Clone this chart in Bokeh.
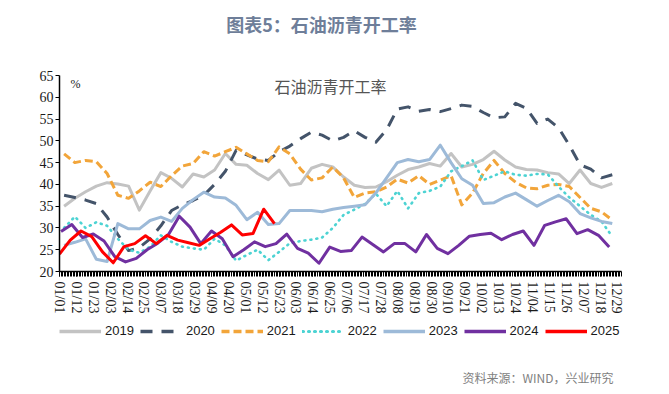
from bokeh.plotting import figure
from bokeh.layouts import column
from bokeh.models import Legend, LegendItem, FixedTicker, Label, Range1d
from bokeh.embed import file_html
from bokeh.resources import INLINE

# ---------------- data ----------------
tick_labels = ["01/01", "01/12", "01/23", "02/03", "02/14", "02/25", "03/07", "03/18",
               "03/29", "04/09", "04/20", "05/01", "05/12", "05/23", "06/03", "06/14",
               "06/25", "07/06", "07/17", "07/28", "08/08", "08/19", "08/30", "09/10",
               "09/21", "10/02", "10/13", "10/24", "11/04", "11/15", "11/26", "12/07",
               "12/18", "12/29"]
tick_days = [11 * i for i in range(len(tick_labels))]   # day-of-year of each tick label
y_ticks = [20, 25, 30, 35, 40, 45, 50, 55, 60, 65]

years = ["2019", "2020", "2021", "2022", "2023", "2024", "2025"]

y2019 = [35.0, 36.8, 38.3, 39.6, 40.4, 40.1, 39.6, 34.1, 38.5, 42.7, 41.4, 39.4, 42.4,
         41.7, 43.3, 47.1, 44.6, 44.4, 42.5, 41.1, 43.3, 39.8, 40.2, 43.7, 44.6, 44.0,
         41.7, 39.8, 39.3, 39.4, 40.6, 42.1, 43.4, 44.0, 44.8, 44.2, 47.1, 44.0, 44.6,
         45.7, 47.6, 45.6, 44.0, 43.4, 43.3, 42.7, 42.4, 40.2, 43.3, 40.2, 39.3, 40.2]
y2020 = [37.5, 37.0, 36.4, 35.6, 32.5, 28.5, 24.8, 25.5, 27.5, 30.5, 34.0, 35.3, 36.3,
         37.5, 40.0, 43.0, 47.8, 46.8, 45.8, 45.5, 47.5, 48.8, 50.5, 52.0, 51.3, 50.0,
         50.8, 52.3, 50.8, 49.7, 52.5, 57.3, 57.8, 56.8, 57.2, 56.7, 57.4, 58.2, 57.9,
         56.5, 55.3, 55.5, 58.6, 57.5, 54.0, 55.0, 53.0, 49.0, 44.5, 43.5, 41.5, 42.2]
y2021 = [47.0, 45.0, 45.5, 45.2, 42.5, 37.5, 36.8, 38.5, 40.5, 39.5, 42.0, 44.2, 44.8,
         47.5, 46.5, 47.5, 48.5, 47.0, 45.5, 45.2, 48.6, 47.0, 43.5, 41.0, 41.5, 44.0,
         41.5, 37.0, 38.0, 38.3, 39.4, 41.2, 40.3, 42.0, 40.0, 41.0, 42.0, 35.3, 38.0,
         42.5, 45.5, 42.5, 40.5, 39.2, 39.0, 39.8, 40.0, 39.5, 37.0, 34.5, 33.7, 31.8]
y2022 = [30.0, 32.6, 30.0, 31.3, 30.5, 27.5, 25.0, 24.3, 25.7, 28.3, 26.8, 25.7, 25.3,
         25.0, 27.5, 26.0, 22.5, 23.8, 25.0, 22.6, 24.5, 26.5, 27.0, 27.3, 27.8, 30.0,
         33.0, 34.2, 35.5, 37.9, 35.0, 38.5, 34.5, 38.0, 38.5, 39.5, 43.0, 44.2, 45.5,
         41.0, 42.0, 43.0, 42.2, 42.0, 42.4, 42.3, 39.5, 37.0, 35.0, 33.0, 31.5, 28.0]
y2023 = [26.0, 26.7, 27.5, 22.8, 22.3, 31.0, 29.8, 29.8, 31.7, 32.5, 31.5, 34.5, 36.5,
         38.2, 37.1, 36.9, 35.2, 31.9, 33.6, 30.8, 31.0, 34.0, 34.0, 34.0, 33.7, 34.3,
         34.7, 35.0, 35.3, 38.0, 41.5, 45.0, 45.7, 45.2, 45.7, 49.0, 45.0, 41.3, 39.8,
         35.6, 35.8, 37.1, 38.0, 36.5, 35.0, 36.3, 37.5, 36.0, 33.3, 32.3, 31.5, 31.0]
y2024 = [29.2, 30.8, 27.8, 28.6, 27.0, 23.4, 22.2, 23.0, 25.0, 26.5, 28.5, 32.7, 30.2,
         26.4, 29.3, 27.5, 23.4, 25.0, 26.8, 25.7, 26.4, 28.6, 25.3, 24.2, 21.9, 25.6,
         24.6, 24.8, 27.9, 26.2, 24.5, 26.4, 26.4, 24.5, 28.5, 25.3, 24.1, 26.0, 28.1,
         28.5, 28.8, 27.3, 28.5, 29.3, 26.0, 30.6, 31.4, 32.1, 28.7, 29.6, 28.3, 25.6]
y2025 = [24.0, 27.2, 29.3, 28.0, 24.5, 22.0, 25.7, 26.4, 28.2, 26.4, 28.3, 27.2, 26.6,
         26.0, 27.5, 29.0, 30.7, 28.4, 28.7, 34.3, 31.0]

series_values = [y2019, y2020, y2021, y2022, y2023, y2024, y2025]
start_day = [3, 3, 3, 3, 3, 1, 0]          # day-of-year of each year's first weekly reading

colors = ["#C3C3C3", "#44546A", "#F2A53A", "#4DD3D3", "#9DBAD8", "#7030A0", "#FF0000"]
dashes = ["solid", "12 9", "8 4", "1 5", "solid", "solid", "solid"]
widths = [3, 3, 3, 2.6, 3, 3, 3]
caps = ["butt", "butt", "butt", "round", "butt", "butt", "butt"]

W = 669
NAN = float("nan")
# the column layout aligns all frames to the main chart's frame (left edge at 59 px)


def blank(height):
    f = figure(width=W, height=height, x_range=Range1d(0, 1), y_range=Range1d(0, 1),
               output_backend="svg", toolbar_location=None,
               x_axis_location=None, y_axis_location=None,
               min_border_left=59, min_border_right=48, min_border_top=0, min_border_bottom=0)
    f.grid.visible = False
    f.outline_line_color = None
    f.background_fill_color = "white"
    f.border_fill_color = "white"
    return f


# ---------------- title strip ----------------
top = blank(60)
top.add_layout(Label(x=262, y=37, x_units="screen", y_units="screen",
                     text="图表5：石油沥青开工率", text_align="center", text_baseline="middle",
                     text_font="Noto Sans CJK SC", text_font_style="bold",
                     text_font_size="18px", text_color="#6E7E99"))

# ---------------- main chart ----------------
p = figure(width=W, height=260, x_range=(0, 366), y_range=(20, 65),
           output_backend="svg", toolbar_location=None,
           min_border_left=59, min_border_right=48, min_border_top=15, min_border_bottom=49)
p.outline_line_color = None
p.grid.visible = False
p.background_fill_color = "white"
p.border_fill_color = "white"

for vals, d0, c, dsh, w, cap in zip(series_values, start_day, colors, dashes, widths, caps):
    xs = [d0 + 7 * i for i in range(len(vals))]
    p.line(xs, vals, line_color=c, line_width=w, line_dash=dsh,
           line_cap=cap, line_join="round")

p.yaxis.ticker = FixedTicker(ticks=y_ticks)
p.yaxis.major_tick_in = 0
p.yaxis.major_tick_out = 4
p.yaxis.minor_tick_line_color = None
p.yaxis.axis_line_color = "black"
p.yaxis.axis_line_width = 1.5
p.yaxis.major_tick_line_color = "black"
p.yaxis.major_label_text_font = "Liberation Serif"
p.yaxis.major_label_text_font_size = "14px"
p.yaxis.major_label_text_color = "#1a1a1a"
p.yaxis.major_label_standoff = 2

p.xaxis.ticker = FixedTicker(ticks=tick_days, minor_ticks=list(range(0, 367)))
p.xaxis.major_label_overrides = {d: lab for d, lab in zip(tick_days, tick_labels)}
p.xaxis.major_label_orientation = "vertical"
p.xaxis.major_label_text_font = "Liberation Serif"
p.xaxis.major_label_text_font_size = "14px"
p.xaxis.major_label_text_color = "#1a1a1a"
p.xaxis.major_label_standoff = 5
p.xaxis.axis_line_color = "black"
p.xaxis.axis_line_width = 1.5
p.xaxis.major_tick_in = 0
p.xaxis.major_tick_out = 5
p.xaxis.minor_tick_in = 0
p.xaxis.minor_tick_out = 5
p.xaxis.major_tick_line_color = "black"
p.xaxis.minor_tick_line_color = "black"

p.add_layout(Label(x=271, y=186, x_units="screen", y_units="screen",
                   text="石油沥青开工率", text_align="center", text_baseline="middle",
                   text_font="Noto Sans CJK SC", text_font_size="16px",
                   text_color="#555555"))
p.add_layout(Label(x=16, y=188, x_units="screen", y_units="screen",
                   text="%", text_align="center", text_baseline="middle",
                   text_font="Liberation Serif", text_font_size="12px",
                   text_color="#1a1a1a"))

# ---------------- legend + source strip ----------------
bot = blank(74)
legend_renderers = []
for c, dsh, w, cap in zip(colors, dashes, widths, caps):
    # legend swatches only: a line with no drawable point
    legend_renderers.append(bot.line([NAN], [NAN], line_color=c, line_width=w + 0.5,
                                     line_dash=dsh, line_cap=cap))
items = [LegendItem(label=y, renderers=[r]) for y, r in zip(years, legend_renderers)]
legend = Legend(items=items, orientation="horizontal", location=(0, 56),
                glyph_width=42, glyph_height=14, label_standoff=4, spacing=6,
                padding=0, margin=0, border_line_color=None, background_fill_alpha=0,
                label_text_font="Liberation Sans", label_text_font_size="13px",
                label_text_color="#1a1a1a", label_height=14)
bot.add_layout(legend, "center")
bot.add_layout(Label(x=554, y=17, x_units="screen", y_units="screen",
                     text="资料来源：WIND，兴业研究", text_align="right", text_baseline="middle",
                     text_font="Noto Sans CJK SC", text_font_size="12px",
                     text_color="#7F7F7F"))

layout = column(top, p, bot, spacing=0)
open("out.html", "w").write(file_html(layout, INLINE))
